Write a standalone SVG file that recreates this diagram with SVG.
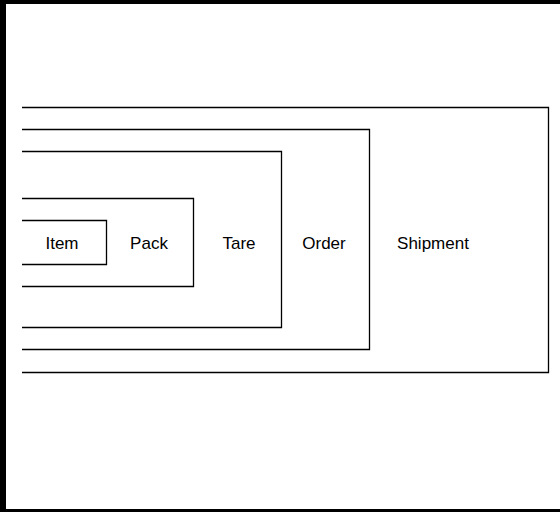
<svg xmlns="http://www.w3.org/2000/svg" width="560" height="512" viewBox="0 0 560 512">
<style>
.box{fill:none;stroke:#000;stroke-width:1.3}
.lbl{font-family:"Liberation Sans",Arial,sans-serif;font-size:17px;fill:#000;text-anchor:middle}
</style>
<rect x="0" y="0" width="560" height="512" fill="#fff"/>
<g id="frame" fill="#000">
<rect x="0" y="0" width="560" height="4"/>
<rect x="0" y="0" width="6" height="512"/>
<rect x="0" y="509" width="560" height="3"/>
</g>
<g id="shipment">
<path class="box" d="M22 107.5 H548.5 V372.5 H22"/>
<text class="lbl" x="433" y="248.5">Shipment</text>
</g>
<g id="order">
<path class="box" d="M22 129.5 H369.5 V349.5 H22"/>
<text class="lbl" x="324" y="248.5">Order</text>
</g>
<g id="tare">
<path class="box" d="M22 151.5 H281.5 V327.5 H22"/>
<text class="lbl" x="239" y="248.5">Tare</text>
</g>
<g id="pack">
<path class="box" d="M22 198.5 H193.5 V286.5 H22"/>
<text class="lbl" x="149" y="248.5">Pack</text>
</g>
<g id="item">
<path class="box" d="M22 220.5 H106.5 V264.5 H22"/>
<text class="lbl" x="62" y="248.5">Item</text>
</g>
<g id="connectors"></g>
</svg>
